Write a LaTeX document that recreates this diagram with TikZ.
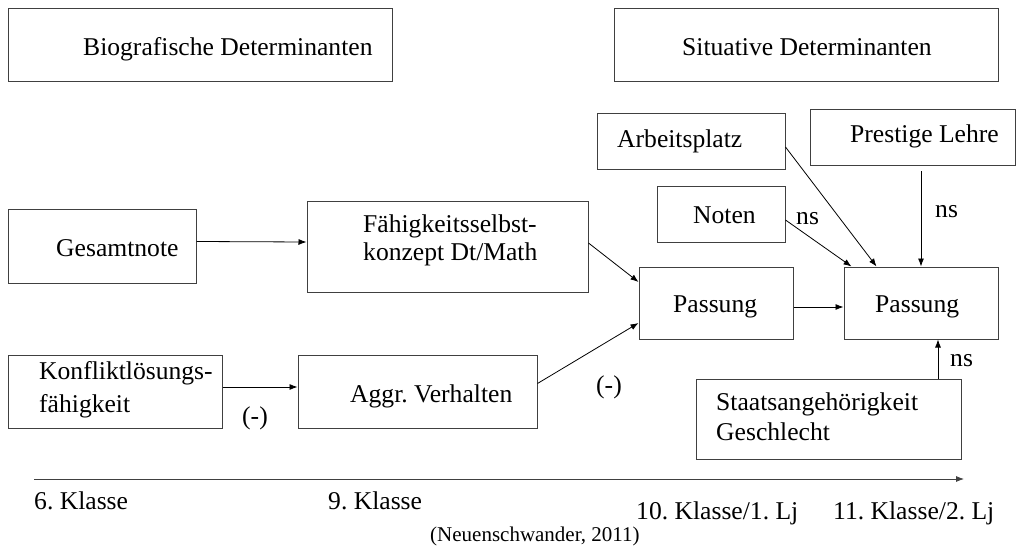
\documentclass[tikz,border=0pt]{standalone}
\usepackage{fontspec}
\setmainfont{Liberation Serif}
\usetikzlibrary{arrows.meta}
\frenchspacing
\tikzset{
  box/.style={draw=black!75, line width=1pt, inner sep=0pt},
  txt/.style={inner sep=0pt, anchor=base west, font=\fontsize{25.6}{30}\selectfont},
  arr/.style={-{Latex[length=8pt,width=6pt]}, line width=0.8pt},
}
\begin{document}
\begin{tikzpicture}[x=1pt,y=-1pt]
    \useasboundingbox (0,0) rectangle (1020,548);
    % Kopfzeile
    \node[box, minimum width=384, minimum height=73] (bio) at (200,45.5) {};
    \node[txt] (biotxt) at (83,56) {Biografische Determinanten};
    \node[box, minimum width=384, minimum height=73] (sit) at (806,45.5) {};
    \node[txt] (sittxt) at (682,56) {Situative Determinanten};
    % situative Boxen
    \node[box, minimum width=188, minimum height=56] (arbeit) at (691,142) {};
    \node[txt] (arbeittxt) at (617,148) {Arbeitsplatz};
    \node[box, minimum width=205, minimum height=56] (prestige) at (912.5,138) {};
    \node[txt] (prestigetxt) at (850,143) {Prestige Lehre};
    \node[box, minimum width=128, minimum height=56] (noten) at (721,215) {};
    \node[txt] (notentxt) at (693,224) {Noten};
    \node[box, minimum width=265, minimum height=80] (staats) at (828.5,419) {};
    \node[txt] (staatstxta) at (716,410) {Staatsangehörigkeit};
    \node[txt] (staatstxtb) at (716,440) {Geschlecht};
    % biografische Boxen
    \node[box, minimum width=188, minimum height=73] (gesamt) at (102,246.5) {};
    \node[txt] (gesamttxt) at (56,257) {Gesamtnote};
    \node[box, minimum width=281, minimum height=90] (faehig) at (447.5,247) {};
    \node[txt] (faehigtxta) at (363,233) {Fähigkeitsselbst-};
    \node[txt] (faehigtxtb) at (363,261) {konzept Dt/Math};
    \node[box, minimum width=214, minimum height=73] (konflikt) at (115,391.5) {};
    \node[txt] (konflikttxta) at (39,379) {Konfliktlösungs-};
    \node[txt] (konflikttxtb) at (39,412) {fähigkeit};
    \node[box, minimum width=239, minimum height=73] (aggr) at (417.5,391.5) {};
    \node[txt] (aggrtxt) at (350,402) {Aggr. Verhalten};
    % Passung
    \node[box, minimum width=154, minimum height=72] (passa) at (716,303) {};
    \node[txt] (passatxt) at (673,312) {Passung};
    \node[box, minimum width=154, minimum height=72] (passb) at (921,303) {};
    \node[txt] (passbtxt) at (875,312) {Passung};
    % Pfeile
    \draw[arr] ([yshift=5]gesamt.east) -- ([yshift=5]faehig.west);
    \draw[arr] ([yshift=4.5]konflikt.east) -- ([yshift=4.5]aggr.west);
    \draw[arr] ([yshift=4]faehig.east) -- ([yshift=21]passa.west);
    \draw[arr] ([yshift=8]aggr.east) -- ([yshift=-20]passa.west);
    \draw[arr] ([yshift=-4]passa.east) -- ([yshift=-4]passb.west);
    \draw[arr] ([yshift=-5]noten.east) -- ([xshift=8]passb.north west);
    \draw[arr] ([yshift=-5]arbeit.east) -- ([xshift=33]passb.north west);
    \draw[arr, shorten <=5pt] (prestige.south -| passb.north) -- (passb.north);
    \coordinate (nsfuss) at ([xshift=17]passb.south);
    \draw[arr] (staats.north -| nsfuss) -- (nsfuss);
    % Beschriftungen
    \node[txt] (nsnoten) at (796,225) {ns};
    \node[txt] (nsprestige) at (935,218) {ns};
    \node[txt] (nsstaats) at (950,366) {ns};
    \node[txt] (minusa) at (242,424) {(-)};
    \node[txt] (minusb) at (596,393) {(-)};
    % Zeitachse
    \coordinate (t0) at (34,479);
    \coordinate (t1) at (964,479);
    \draw[arr, draw=black!75] (t0) -- (t1);
    \node[txt] (kl6) at (34,509) {6. Klasse};
    \node[txt] (kl9) at (328,509) {9. Klasse};
    \node[txt] (kl10) at (636,519) {10. Klasse/1. Lj};
    \node[txt] (kl11) at (833,519) {11. Klasse/2. Lj};
    \node[txt, font=\fontsize{21}{24}\selectfont] (quelle) at (430,541) {(Neuenschwander, 2011)};
\end{tikzpicture}
\end{document}
